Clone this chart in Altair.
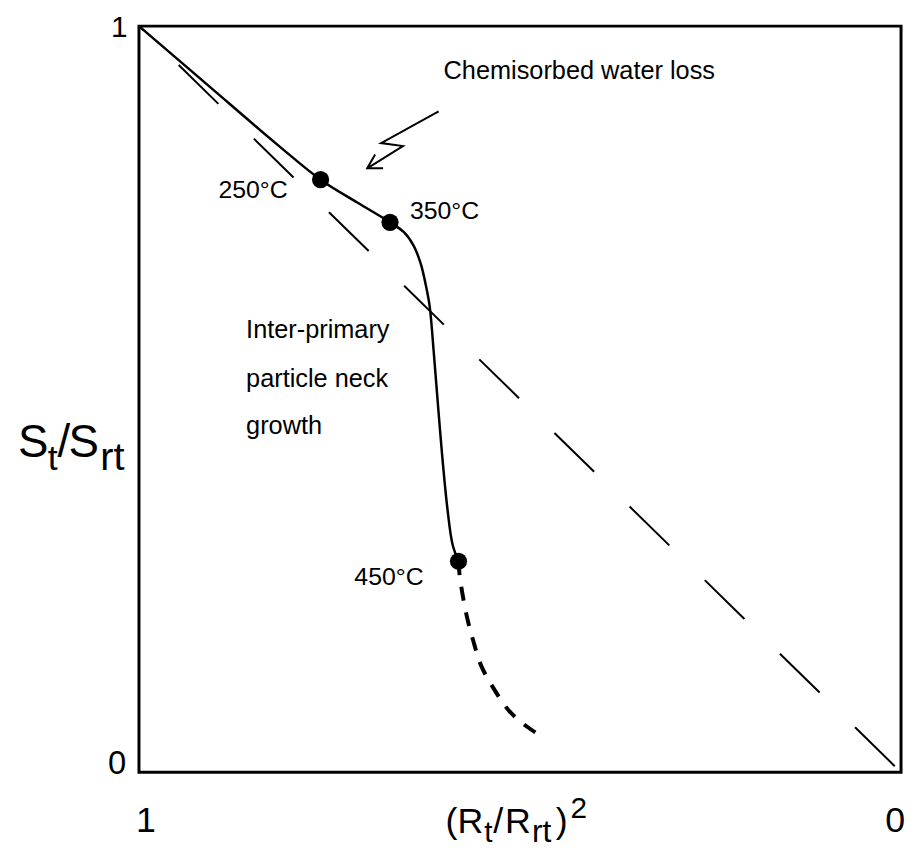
import altair as alt
import pandas as pd

# ---- data ----
curve_x = [1.0, 0.9089, 0.8177, 0.7617, 0.7135, 0.6706, 0.6523, 0.6393, 0.6302, 0.6237,
           0.6185, 0.6133, 0.6081, 0.6016, 0.5951, 0.5885, 0.5807]
curve_y = [1.0, 0.9203, 0.8406, 0.7942, 0.7636, 0.7371, 0.7238, 0.7052, 0.6813, 0.6534,
           0.6242, 0.5644, 0.4980, 0.4183, 0.3519, 0.3054, 0.2829]
tail_x = [0.5807, 0.579, 0.570, 0.561, 0.551, 0.535, 0.514, 0.492, 0.473]
tail_y = [0.2829, 0.262, 0.210, 0.175, 0.143, 0.113, 0.082, 0.062, 0.049]
diag_x = [1.0, 0.0]
diag_y = [1.0, 0.0]
point_x = [0.7617, 0.6706, 0.5807]
point_y = [0.7942, 0.7371, 0.2829]
point_labels = ["250°C", "350°C", "450°C"]
label_x = [0.8958, 0.6445, 0.7174]
label_y = [0.7703, 0.7410, 0.2510]

# lightning arrow (annotation)
bolt_x = [0.6068, 0.6823, 0.6536, 0.7005]
bolt_y = [0.8858, 0.8433, 0.8393, 0.8094]
head_x = [0.6797, 0.7005, 0.6901]
head_y = [0.8094, 0.8094, 0.8280]

note_text = ["Chemisorbed water loss", "Inter-primary", "particle neck", "growth"]
note_x = [0.6003, 0.8594, 0.8594, 0.8594]
note_y = [0.9296, 0.5817, 0.5166, 0.4529]

tick_text = ["1", "0", "1", "0"]
tick_x = [1.0260, 1.0286, 0.9909, 0.0078]
tick_y = [0.9854, -0.0027, -0.0797, -0.0797]
tick_size = [30, 33, 36, 36]

# axis titles assembled from pieces (subscripts / superscript)
ytitle_text = ["S", "t", "/", "S", "rt"]
ytitle_px = [18, 48, 58, 69, 101]
ytitle_py = [457, 470, 457, 457, 470]
ytitle_size = [46, 36, 46, 46, 40]

xtitle_text = ["(", "R", "t", "/", "R", "rt", ")", "2"]
xtitle_px = [449, 461, 488, 497, 509, 536, 560, 575]
xtitle_py = [836, 836, 845, 836, 836, 845, 836, 821]
xtitle_size = [36, 36, 30, 36, 36, 32, 36, 30]

# ---- build tables ----
def px_to_x(p):
    return 1 - (p - 140) / 768

def py_to_y(p):
    return (775 - p) / 753

curve = pd.DataFrame({"x": curve_x, "y": curve_y, "i": range(len(curve_x))})
tail = pd.DataFrame({"x": tail_x, "y": tail_y, "i": range(len(tail_x))})
diag = pd.DataFrame({"x": diag_x, "y": diag_y, "i": range(len(diag_x))})
pts = pd.DataFrame({"x": point_x, "y": point_y})
plabels = pd.DataFrame({"x": label_x, "y": label_y, "t": point_labels})
bolt = pd.DataFrame({"x": bolt_x, "y": bolt_y, "i": range(len(bolt_x))})
head = pd.DataFrame({"x": head_x, "y": head_y, "i": range(len(head_x))})
notes = pd.DataFrame({"x": note_x, "y": note_y, "t": note_text})
ticks = pd.DataFrame({"x": tick_x, "y": tick_y, "t": tick_text, "s": tick_size})
ytitle = pd.DataFrame({"x": [px_to_x(p) for p in ytitle_px],
                       "y": [py_to_y(p) for p in ytitle_py],
                       "t": ytitle_text, "s": ytitle_size})
xtitle = pd.DataFrame({"x": [px_to_x(p) for p in xtitle_px],
                       "y": [py_to_y(p) for p in xtitle_py],
                       "t": xtitle_text, "s": xtitle_size})

xs = alt.Scale(domain=[0, 1], reverse=True, nice=False, zero=False)
ys = alt.Scale(domain=[0, 1], nice=False, zero=False)
X = alt.X("x:Q", scale=xs, axis=None)
Y = alt.Y("y:Q", scale=ys, axis=None)
FONT = "Liberation Sans"

diag_layer = alt.Chart(diag).mark_line(
    color="black", strokeWidth=2, strokeDash=[56, 50], strokeDashOffset=50
).encode(x=X, y=Y, order="i:Q")

curve_layer = alt.Chart(curve).mark_line(
    color="black", strokeWidth=2.5, interpolate="catmull-rom"
).encode(x=X, y=Y, order="i:Q")

tail_layer = alt.Chart(tail).mark_line(
    color="black", strokeWidth=4, strokeDash=[14, 12], interpolate="catmull-rom"
).encode(x=X, y=Y, order="i:Q")

pts_layer = alt.Chart(pts).mark_circle(color="black", size=300, opacity=1).encode(x=X, y=Y)

bolt_layer = alt.Chart(bolt).mark_line(color="black", strokeWidth=2).encode(x=X, y=Y, order="i:Q")
head_layer = alt.Chart(head).mark_line(color="black", strokeWidth=2).encode(x=X, y=Y, order="i:Q")

plabel_layer = alt.Chart(plabels).mark_text(
    align="left", baseline="alphabetic", font=FONT, fontSize=25, color="black"
).encode(x=X, y=Y, text="t:N")

notes_layer = alt.Chart(notes).mark_text(
    align="left", baseline="alphabetic", font=FONT, fontSize=25.5, color="black"
).encode(x=X, y=Y, text="t:N")

ticks_layer = alt.Chart(ticks).mark_text(
    align="center", baseline="alphabetic", font=FONT, color="black"
).encode(x=X, y=Y, text="t:N", size=alt.Size("s:Q", scale=None, legend=None))

ytitle_layer = alt.Chart(ytitle).mark_text(
    align="left", baseline="alphabetic", font=FONT, color="black"
).encode(x=X, y=Y, text="t:N", size=alt.Size("s:Q", scale=None, legend=None))

xtitle_layer = alt.Chart(xtitle).mark_text(
    align="left", baseline="alphabetic", font=FONT, color="black"
).encode(x=X, y=Y, text="t:N", size=alt.Size("s:Q", scale=None, legend=None))

chart = alt.layer(
    diag_layer, curve_layer, tail_layer, pts_layer, bolt_layer, head_layer,
    plabel_layer, notes_layer, ticks_layer, ytitle_layer, xtitle_layer
).properties(
    width=768, height=752,
    autosize=alt.AutoSizeParams(type="none"),
    padding={"left": 132, "top": 15, "right": 5, "bottom": 74},
    background="white",
).configure_view(
    stroke="black", strokeWidth=3
)

chart.save("out.html", embed_options={"renderer": "svg", "actions": False})
